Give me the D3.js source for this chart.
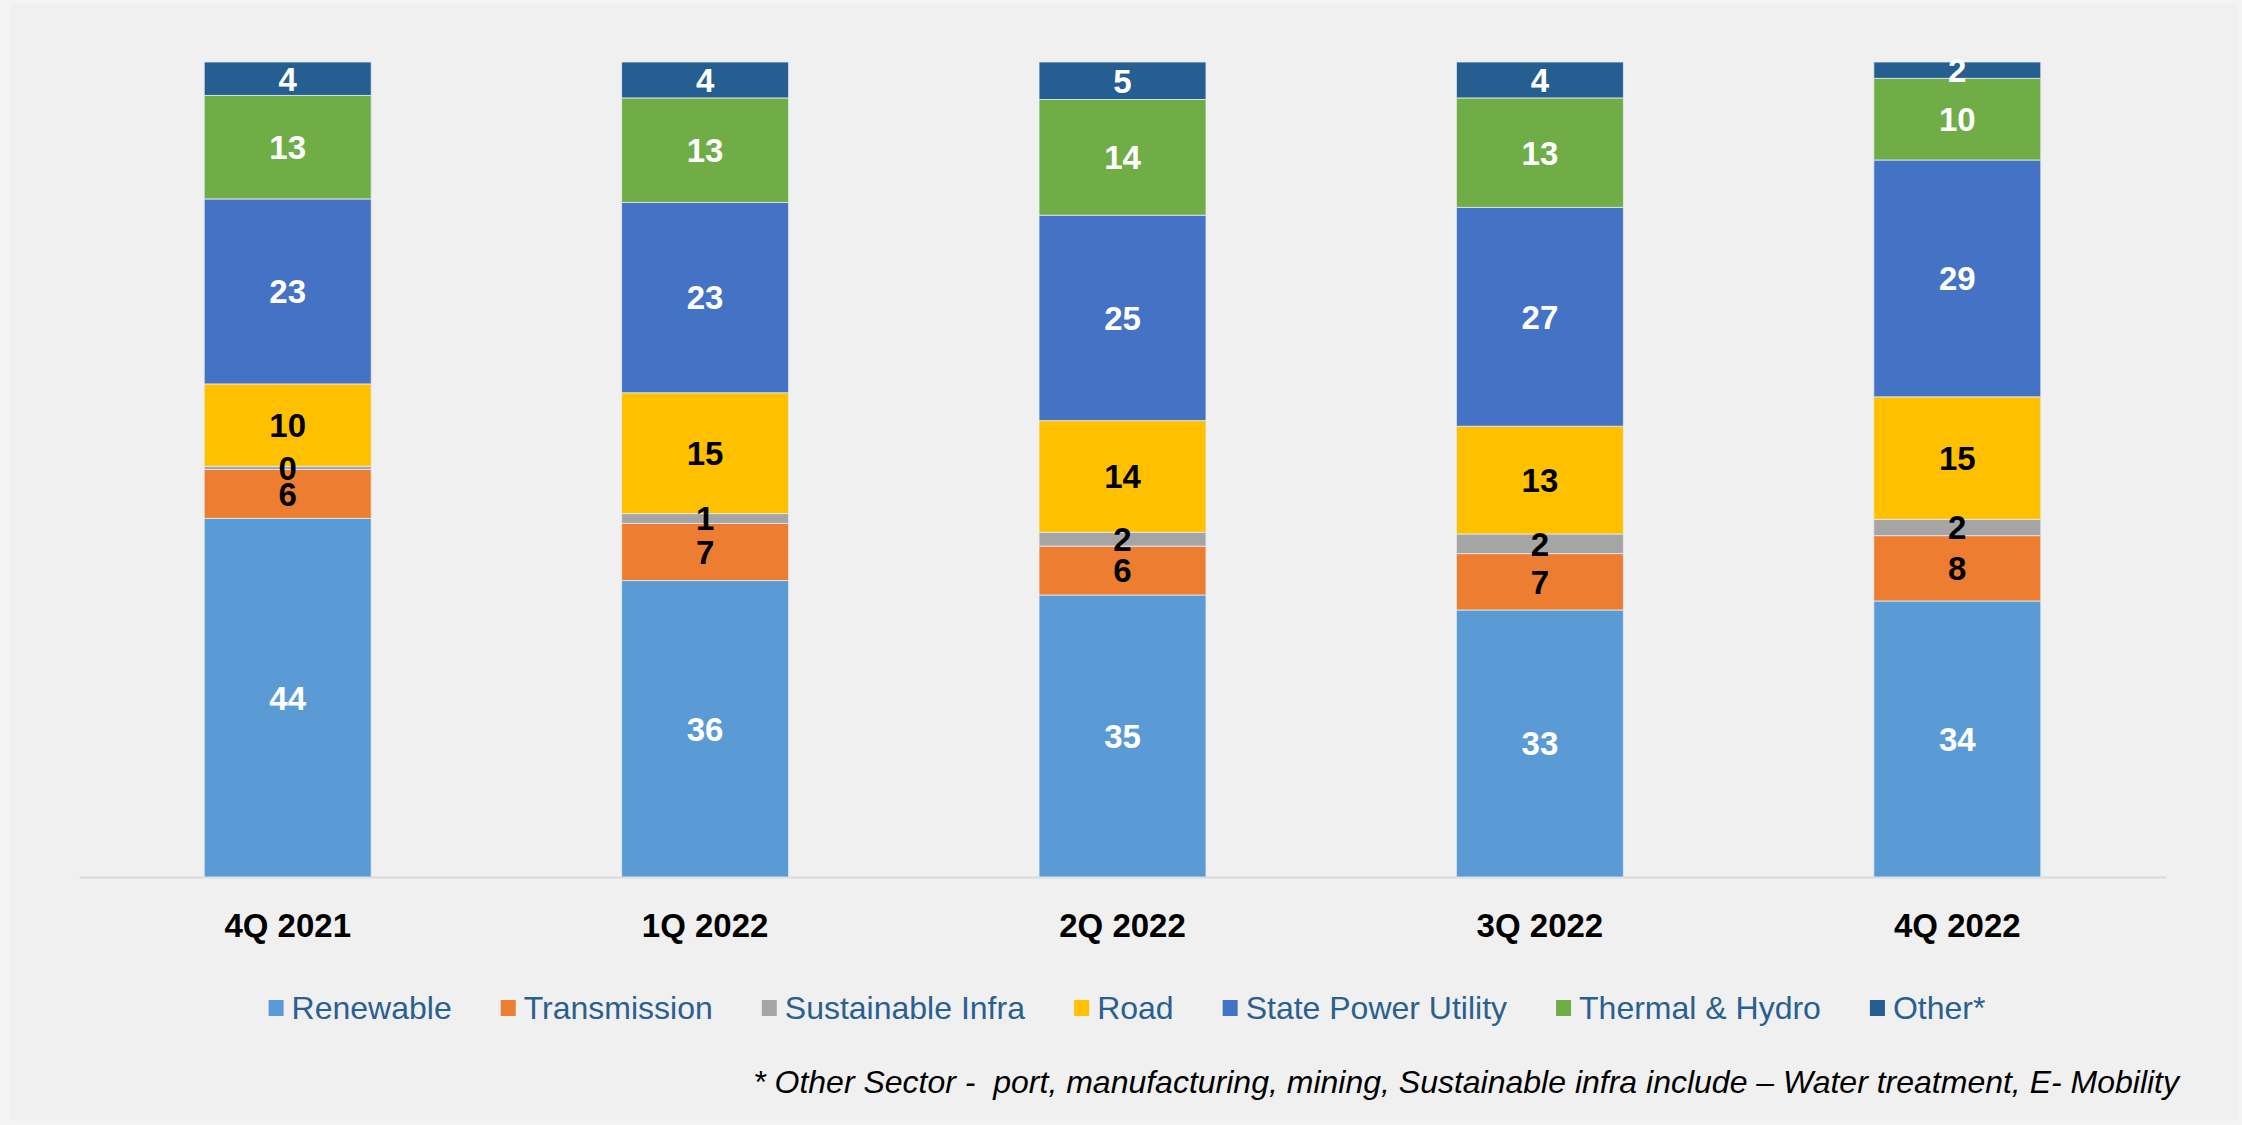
<!DOCTYPE html>
<html>
<head>
<meta charset="utf-8">
<script src="https://cdn.jsdelivr.net/npm/d3@7"></script>
<style>
  html, body { margin: 0; padding: 0; background: #f4f4f4; }
  svg { display: block; font-family: "Liberation Sans", Arial, sans-serif; }
</style>
</head>
<body>
<div id="chart"></div>
<script>
(function() {
    'use strict';

    // Quarters on the x axis
    var quarters = ['4Q 2021', '1Q 2022', '2Q 2022', '3Q 2022', '4Q 2022'];

    // Sector shares (%); bars are drawn as 100% stacks
    var renewable      = [44.0, 36.3, 34.6, 32.7, 33.8];
    var transmission   = [6.0, 7.0, 6.0, 6.9, 8.0];
    var sustainable    = [0.4, 1.2, 1.7, 2.4, 2.0];
    var road           = [10.1, 14.8, 13.7, 13.2, 15.0];
    var statePower     = [22.7, 23.3, 25.2, 26.8, 29.0];
    var thermalHydro   = [12.7, 12.8, 14.2, 13.4, 10.0];
    var other          = [4.1, 4.4, 4.6, 4.4, 2.0];

    var seriesNames = ['Renewable', 'Transmission', 'Sustainable Infra', 'Road',
        'State Power Utility', 'Thermal & Hydro', 'Other*'];
    var seriesColors = ['#5b9bd5', '#ed7d31', '#a5a5a5', '#ffc000', '#4472c4', '#70ad47', '#255e91'];
    var labelColors = ['#ffffff', '#000000', '#000000', '#000000', '#ffffff', '#ffffff', '#ffffff'];

    var footnote = '* Other Sector -  port, manufacturing, mining, Sustainable infra include \u2013 Water treatment, E- Mobility';

    var seriesValues = [renewable, transmission, sustainable, road, statePower, thermalHydro, other];

    var width = 2242, height = 1125;
    var margin = { left: 79, right: 76, top: 62, bottom: 248 };

    var rows = quarters.map(function(q, i) {
        var r = { quarter: q };
        seriesNames.forEach(function(s, j) { r[s] = seriesValues[j][i]; });
        return r;
    });

    var stacked = d3.stack()
        .keys(seriesNames)
        .offset(d3.stackOffsetExpand)(rows);

    var svg = d3.select('#chart').append('svg')
        .attr('width', width)
        .attr('height', height);

    // outer frame
    svg.append('rect')
        .attr('x', 10).attr('y', 4)
        .attr('width', width - 14).attr('height', height - 8)
        .attr('fill', '#f0f0f0');

    var x = d3.scaleBand()
        .domain(quarters)
        .range([margin.left, width - margin.right])
        .paddingInner(0.6)
        .paddingOuter(0.3);

    var y = d3.scaleLinear()
        .domain([0, 1])
        .range([height - margin.bottom, margin.top]);

    var color = d3.scaleOrdinal().domain(seriesNames).range(seriesColors);
    var labelColor = d3.scaleOrdinal().domain(seriesNames).range(labelColors);

    // axis baseline
    var xAxis = svg.append('g')
        .attr('transform', 'translate(0,' + y(0) + ')')
        .call(d3.axisBottom(x).tickSize(0).tickPadding(37).tickSizeOuter(0));
    xAxis.select('.domain').attr('stroke', '#d9d9d9').attr('stroke-width', 2);
    xAxis.selectAll('text')
        .attr('font-family', '"Liberation Sans", Arial, sans-serif')
        .attr('font-size', 33)
        .attr('font-weight', 'bold')
        .attr('fill', '#000');

    var layer = svg.append('g').selectAll('g')
        .data(stacked)
        .join('g')
        .attr('fill', function(d) { return color(d.key); });

    layer.selectAll('rect')
        .data(function(d) { return d; })
        .join('rect')
        .attr('x', function(d) { return x(d.data.quarter); })
        .attr('width', x.bandwidth())
        .attr('y', function(d) { return y(d[1]); })
        .attr('height', function(d) { return Math.max(0, y(d[0]) - y(d[1])); })
        .attr('stroke', 'rgba(230,235,240,0.8)')
        .attr('stroke-width', 1);

    // value labels
    var labels = svg.append('g').selectAll('g')
        .data(stacked)
        .join('g')
        .attr('fill', function(d) { return labelColor(d.key); });

    labels.selectAll('text')
        .data(function(d) { return d.map(function(p) { return { p: p, key: d.key }; }); })
        .join('text')
        .attr('x', function(d) { return x(d.p.data.quarter) + x.bandwidth() / 2; })
        .attr('y', function(d) { return (y(d.p[0]) + y(d.p[1])) / 2; })
        .attr('dy', '0.36em')
        .attr('text-anchor', 'middle')
        .attr('font-size', 33)
        .attr('font-weight', 'bold')
        .text(function(d) { return Math.round(d.p.data[d.key]); });

    // legend
    var legend = svg.append('g').attr('transform', 'translate(0,1019)');
    var items = legend.selectAll('g')
        .data(seriesNames)
        .join('g');
    items.append('rect')
        .attr('x', 0).attr('y', -19)
        .attr('width', 15).attr('height', 16)
        .attr('fill', function(d) { return color(d); });
    items.append('text')
        .attr('x', 23)
        .attr('font-size', 32)
        .attr('fill', '#2a5f91')
        .text(function(d) { return d; });

    var cursor = 0;
    items.each(function() {
        var w = this.getBBox().width;
        d3.select(this).attr('data-x', cursor);
        cursor += w + 49;
    });
    var totalW = cursor - 49;
    var startX = 1127 - totalW / 2;
    items.attr('transform', function() {
        return 'translate(' + (startX + (+this.getAttribute('data-x'))) + ',0)';
    });

    // footnote
    svg.append('text')
        .attr('x', 2179)
        .attr('y', 1093)
        .attr('text-anchor', 'end')
        .attr('font-size', 32)
        .attr('font-style', 'italic')
        .attr('fill', '#000')
        .style('white-space', 'pre')
        .text(footnote);
})();
</script>
</body>
</html>
